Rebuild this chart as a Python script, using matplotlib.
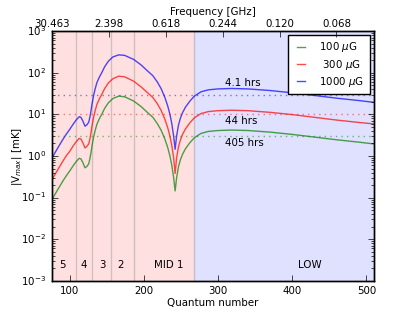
import numpy as np
import matplotlib
matplotlib.use('Agg')
from matplotlib import pyplot as plt

plt.style.use('classic')
plt.rcParams['font.size'] = 7.4
plt.rcParams['font.family'] = ['DejaVu Sans']
plt.rcParams['mathtext.fontset'] = 'dejavusans'

# quantum number grid
n = [75, 80, 85, 90, 95, 100, 105, 109, 112.7, 115,
     117.5, 120.5, 123, 125.5, 127, 128.5, 130, 132, 134, 136.5,
     140, 143, 147, 152, 158, 166, 174, 186, 196, 205,
     212, 218, 223, 228, 232, 235, 237.5, 240, 242, 244,
     246.5, 249, 252, 256, 262, 268, 277, 287, 300, 318,
     340, 370, 400, 430, 460, 490, 510]

v_100 = [0.083, 0.12, 0.17, 0.24, 0.33, 0.44, 0.6, 0.75, 0.88, 0.85,
         0.7, 0.52, 0.56, 0.65, 0.85, 1.2, 1.8, 2.8, 4.0, 5.8,
         8.0, 10, 14, 19, 24, 27.5, 26.5, 21, 15.5, 11,
         8.5, 6.0, 4.2, 2.6, 1.6, 1.0, 0.6, 0.3, 0.145, 0.3,
         0.55, 0.8, 1.1, 1.5, 2.1, 2.75, 3.5, 3.9, 4.1, 4.2,
         4.1, 3.75, 3.3, 2.85, 2.45, 2.15, 1.95]

v_300 = [0.25, 0.36, 0.51, 0.72, 1.0, 1.3, 1.8, 2.25, 2.65, 2.55,
         2.1, 1.56, 1.7, 1.95, 2.55, 3.6, 5.4, 8.4, 12, 17.4,
         24, 30, 42, 57, 72, 83, 80, 63, 46, 33,
         25.5, 18, 12.6, 7.8, 4.8, 3.0, 1.8, 0.9, 0.38, 0.9,
         1.65, 2.4, 3.3, 4.5, 6.3, 8.3, 10.5, 11.7, 12.3, 12.6,
         12.3, 11.2, 9.9, 8.5, 7.3, 6.4, 5.9]

v_1000 = [0.83, 1.2, 1.7, 2.4, 3.3, 4.4, 6, 7.5, 8.8, 8.5,
          7, 5.2, 5.6, 6.5, 8.5, 12, 18, 28, 40, 58,
          80, 100, 140, 190, 240, 270, 262, 210, 155, 110,
          85, 60, 42, 26, 16, 10, 6, 3, 1.45, 3,
          5.5, 8, 11, 15, 21, 27.5, 35, 39, 41, 42,
          41, 37.5, 33, 28.5, 24.5, 21.5, 19.5]

labels = ['100 $\\mu$G', ' 300 $\\mu$G', '1000 $\\mu$G']
colors = ['g', 'r', 'b']
thresholds = [3.0, 10.0, 30.0]
times = ['405 hrs', '44 hrs', '4.1 hrs']
time_y = [2.1, 6.8, 57]

band_edges = [109, 130, 156, 186, 268]
band_names = ['5', '4', '3', '2', 'MID 1', 'LOW']
band_x = [90, 118.7, 143.6, 168, 233, 423]

freq_ticks = [60, 140, 220, 300, 380, 460]
freq_labels = ['30.463', '2.398', '0.618', '0.244', '0.120', '0.068']

fig = plt.figure(figsize=(4.15, 3.12), dpi=100, facecolor='white')
ax = fig.add_subplot(111)
xmin, xmax = 75.8, 509.5

ax.axvspan(xmin, band_edges[-1], color='r', alpha=0.12, lw=0)
ax.axvspan(band_edges[-1], xmax, color='b', alpha=0.12, lw=0)
for e in band_edges:
    ax.axvline(e, color='0.5', alpha=0.35, lw=1)

for vals, lab, c in zip([v_100, v_300, v_1000], labels, colors):
    ax.plot(n, vals, color=c, alpha=0.7, lw=1, label=lab)
for th, c in zip(thresholds, colors):
    ax.axhline(th, color=c, ls=':', lw=1, alpha=0.5)
for t, ty in zip(times, time_y):
    ax.text(309, ty, t, ha='left', va='center')
for name, bx in zip(band_names, band_x):
    ax.text(bx, 0.0024, name, ha='center', va='center')

ax.set_yscale('log')
ax.set_xlim(xmin, xmax)
ax.set_ylim(1e-3, 1e3)
ax.set_xticks([100, 200, 300, 400, 500])
ax.set_xlabel('Quantum number', labelpad=1)
ax.set_ylabel('|V$_{max}$| [mK]', labelpad=-2)
ax.legend(loc='upper right', fontsize=7.4, handlelength=1.4,
          handletextpad=1.1, borderpad=0.55, labelspacing=0.3,
          borderaxespad=0.35)

ax2 = ax.twiny()
ax2.set_xlim(60, 512)
ax2.set_xticks(freq_ticks)
ax2.set_xticklabels(freq_labels)
ax2.tick_params(axis='x', pad=1.5)
ax2.set_xlabel('Frequency [GHz]', labelpad=3)

fig.subplots_adjust(left=0.125, right=0.9, bottom=0.1, top=0.9)
fig.savefig('out.png', dpi=100, facecolor='white')
